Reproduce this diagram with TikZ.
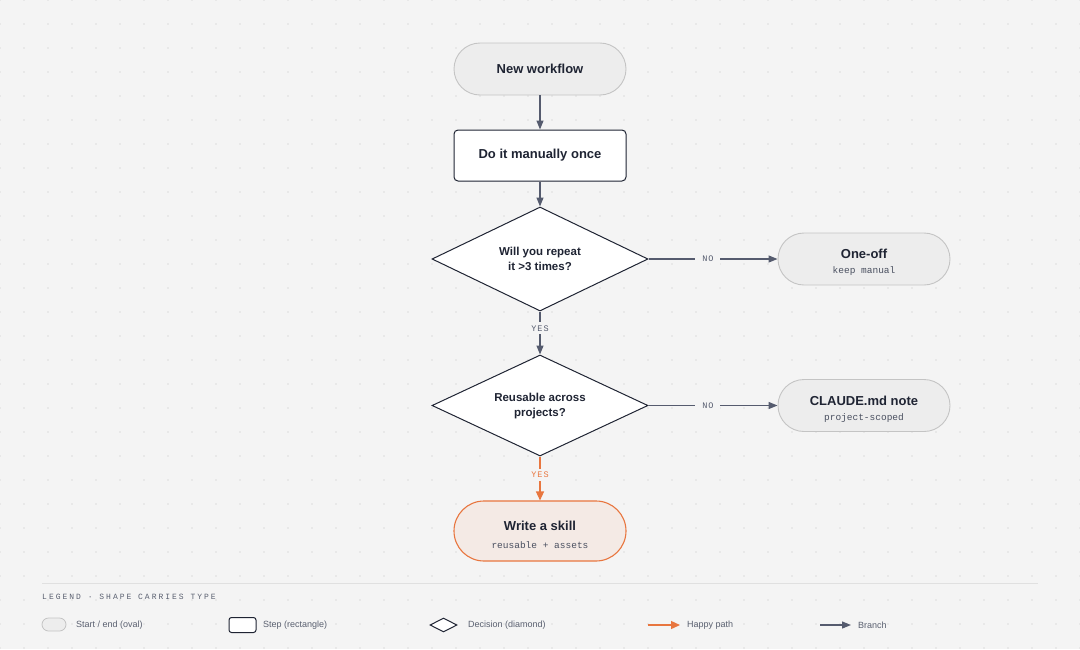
\documentclass[tikz,border=0pt]{standalone}
\usepackage{fontspec}
\setmainfont{Liberation Sans}
\setmonofont{Liberation Mono}
\usetikzlibrary{shapes.geometric,arrows.meta}
\definecolor{bg}{HTML}{F4F4F4}
\definecolor{dotc}{HTML}{DCDCDC}
\definecolor{ink}{HTML}{1F2433}
\definecolor{edge}{HTML}{555B6E}
\definecolor{ovalfill}{HTML}{EDEDED}
\definecolor{ovaldraw}{HTML}{C4C4C4}
\definecolor{orng}{HTML}{E8763F}
\definecolor{skillfill}{HTML}{F4EAE5}
\definecolor{subc}{HTML}{4A5060}
\definecolor{legc}{HTML}{5A6070}
\definecolor{sepc}{HTML}{E0E0E0}
\tikzset{
  oval/.style={draw=ovaldraw, fill=ovalfill, line width=0.9pt, rounded corners=26pt,
    minimum width=172pt, minimum height=52pt, inner sep=0pt, align=center, text=ink},
  stepbox/.style={draw=ink, fill=white, line width=1pt, rounded corners=4pt,
    minimum width=172pt, minimum height=51pt, inner sep=0pt, align=center, text=ink},
  decision/.style={diamond, draw=ink, fill=white, line width=1pt,
    minimum width=216pt, minimum height=#1, inner sep=0pt},
  qtext/.style={font=\fontsize{11.5}{15}\selectfont\bfseries, text=ink, align=center, inner sep=0pt},
  skill/.style={oval, draw=orng, fill=skillfill, line width=1.1pt, rounded corners=30pt, minimum height=60pt},
  ttl/.style={font=\fontsize{13}{16}\selectfont\bfseries},
  sub/.style={font=\fontsize{9.5}{11}\ttfamily, text=subc},
  branch/.style={draw=edge, line width=1.2pt, -{Triangle[length=9pt,width=7pt]}},
  happy/.style={draw=orng, line width=1.3pt, -{Triangle[length=9pt,width=8pt]}},
  elabel/.style={fill=bg, inner xsep=7pt, inner ysep=3pt, font=\fontsize{8.5}{9}\ttfamily\addfontfeature{LetterSpace=12}, text=edge},
  leg/.style={font=\fontsize{9}{11}\selectfont, text=legc, anchor=west, inner sep=0pt},
}
\begin{document}
\begin{tikzpicture}[x=1pt,y=-1pt]
\fill[bg] (0,0) rectangle (1080,649);
\useasboundingbox (0,0) rectangle (1080,649);
% dot grid
\foreach \i in {0,...,45} {\foreach \j in {0,...,27} {\fill[dotc] (\i*24,\j*24) circle (0.9pt);}}
% nodes
\node[oval, ttl] (start) at (540,69) {New workflow};
\node[stepbox, ttl] (manual) at (540,155.5) {Do it manually once};
\node[decision=104pt] (rep) at (540,259) {};
\node[qtext] (repT) at (540,259) {Will you repeat\\it >3 times?};
\node[oval] (oneoff) at (864,259) {};
\node[ttl, text=ink] (oneoffT) at (864,254) {One-off};
\node[sub] (oneoffS) at (864,271) {keep manual};
\node[decision=101pt] (reuse) at (540,405.5) {};
\node[qtext] (reuseT) at (540,406) {Reusable across\\projects?};
\node[oval] (claude) at (864,405.5) {};
\node[ttl, text=ink] (claudeT) at (864,401) {CLAUDE.md note};
\node[sub] (claudeS) at (864,418) {project-scoped};
\node[skill] (skill) at (540,531) {};
\node[ttl, text=ink] (skillT) at (540,526) {Write a skill};
\node[sub] (skillS) at (540,545) {reusable + assets};
% edges
\draw[branch] (start) -- (manual);
\draw[branch] (manual) -- (rep);
\draw[branch] (rep.east) -- node[elabel, pos=0.46] {NO} (oneoff.west);
\draw[branch] (rep.south) -- node[elabel, pos=0.39] {YES} (reuse.north);
\draw[branch] (reuse.east) -- node[elabel, pos=0.46] {NO} (claude.west);
\draw[happy] (reuse.south) -- node[elabel, pos=0.42, text=orng] {YES} (skill.north);
% legend
\coordinate (sepL) at (42,583);
\coordinate (sepR) at (1038,583);
\draw[sepc, line width=0.8pt] (sepL) -- (sepR);
\node[anchor=west, inner sep=0pt, text=legc, font=\fontsize{8}{9}\ttfamily\addfontfeature{LetterSpace=25}] (legT) at (42,597) {LEGEND · SHAPE CARRIES TYPE};
\node[draw=ovaldraw, fill=ovalfill, line width=0.8pt, rounded corners=6.5pt, minimum width=24pt, minimum height=13pt, inner sep=0pt] (lgOval) at (54,624.5) {};
\node[leg] (lgOvalT) at (76,625) {Start / end (oval)};
\node[draw=ink, fill=white, line width=1pt, rounded corners=2.5pt, minimum width=27pt, minimum height=15pt, inner sep=0pt] (lgRect) at (242.5,625) {};
\node[leg] (lgRectT) at (263,625) {Step (rectangle)};
\node[diamond, draw=ink, fill=white, line width=1pt, minimum width=27pt, minimum height=14pt, inner sep=0pt] (lgDia) at (443.5,625) {};
\node[leg] (lgDiaT) at (468,625) {Decision (diamond)};
\coordinate (lgH1) at (648,625);
\coordinate (lgH2) at (680,625);
\draw[happy] (lgH1) -- (lgH2);
\node[leg] (lgHT) at (687,625) {Happy path};
\coordinate (lgB1) at (820,625);
\coordinate (lgB2) at (851,625);
\draw[branch] (lgB1) -- (lgB2);
\node[leg] (lgBT) at (858,625) {Branch};
\end{tikzpicture}
\end{document}
